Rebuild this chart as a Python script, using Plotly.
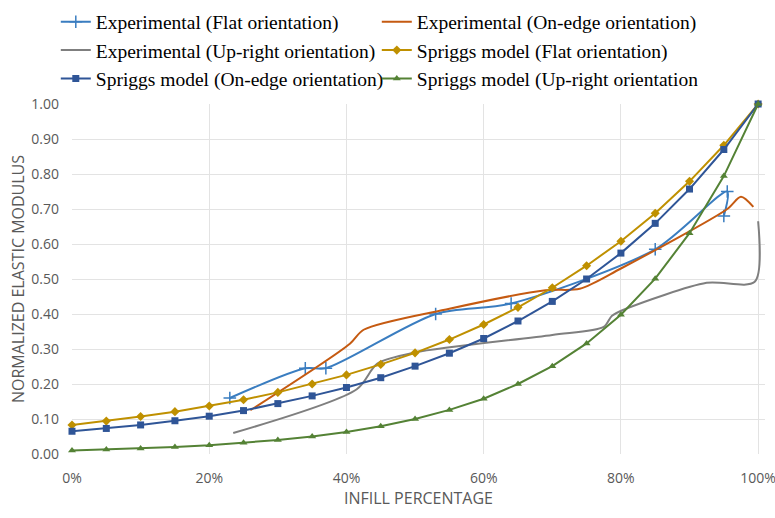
import plotly.graph_objects as go

# Infill percentage grid used for the Spriggs model curves
infill_model = [0, 5, 10, 15, 20, 25, 30, 35, 40, 45, 50, 55, 60, 65, 70, 75, 80, 85, 90, 95, 100]

spriggs_flat = [0.083, 0.094, 0.107, 0.121, 0.137, 0.155, 0.176, 0.200, 0.226, 0.256, 0.289,
                0.327, 0.370, 0.419, 0.475, 0.538, 0.608, 0.688, 0.779, 0.882, 1.000]
spriggs_onedge = [0.065, 0.073, 0.083, 0.095, 0.108, 0.124, 0.144, 0.166, 0.190, 0.218, 0.251,
                  0.288, 0.330, 0.380, 0.436, 0.500, 0.574, 0.659, 0.757, 0.870, 1.000]
spriggs_upright = [0.010, 0.013, 0.016, 0.020, 0.025, 0.032, 0.040, 0.050, 0.063, 0.079, 0.100,
                   0.126, 0.158, 0.200, 0.251, 0.316, 0.398, 0.501, 0.631, 0.794, 1.000]

# Experimental measurements (smoothed curves)
exp_flat_x = [23, 34, 37, 53, 64, 85, 95.5, 95]
exp_flat_y = [0.160, 0.245, 0.245, 0.400, 0.430, 0.585, 0.750, 0.680]

exp_onedge_x = [26, 40.5, 42.5, 55, 69, 74, 80, 95.5, 97.5, 99.3]
exp_onedge_y = [0.125, 0.315, 0.355, 0.415, 0.468, 0.472, 0.530, 0.700, 0.735, 0.706]

exp_upright_x = [23.5, 41.5, 44.5, 50, 70, 77.5, 78.7, 81, 92.5, 99.5, 100]
exp_upright_y = [0.060, 0.185, 0.258, 0.290, 0.340, 0.363, 0.395, 0.417, 0.489, 0.492, 0.665]

x_ticks = [0, 20, 40, 60, 80, 100]
x_tick_labels = ["0%", "20%", "40%", "60%", "80%", "100%"]
y_ticks = [0.0, 0.1, 0.2, 0.3, 0.4, 0.5, 0.6, 0.7, 0.8, 0.9, 1.0]

C_BLUE = "#3A7DC0"
C_ORANGE = "#C55A11"
C_GRAY = "#7F7F7F"
C_GOLD = "#BF9000"
C_NAVY = "#2F5597"
C_GREEN = "#548235"

fig = go.Figure()

fig.add_trace(go.Scatter(
    x=exp_flat_x, y=exp_flat_y, name="Experimental (Flat orientation)",
    mode="lines+markers", line=dict(color=C_BLUE, width=2, shape="spline", smoothing=0.8),
    marker=dict(symbol="cross-thin", size=9, line=dict(color=C_BLUE, width=1.5)),
))
fig.add_trace(go.Scatter(
    x=exp_onedge_x, y=exp_onedge_y, name="Experimental (On-edge orientation)",
    mode="lines", line=dict(color=C_ORANGE, width=2, shape="spline", smoothing=0.8),
))
fig.add_trace(go.Scatter(
    x=exp_upright_x, y=exp_upright_y, name="Experimental (Up-right orientation)",
    mode="lines", line=dict(color=C_GRAY, width=2, shape="spline", smoothing=0.8),
))
fig.add_trace(go.Scatter(
    x=infill_model, y=spriggs_flat, name="Spriggs model (Flat orientation)",
    mode="lines+markers", line=dict(color=C_GOLD, width=2),
    marker=dict(symbol="diamond", size=7, color=C_GOLD),
))
fig.add_trace(go.Scatter(
    x=infill_model, y=spriggs_onedge, name="Spriggs model (On-edge orientation)",
    mode="lines+markers", line=dict(color=C_NAVY, width=2),
    marker=dict(symbol="square", size=7, color=C_NAVY),
))
fig.add_trace(go.Scatter(
    x=infill_model, y=spriggs_upright, name="Spriggs model (Up-right orientation)",
    mode="lines+markers", line=dict(color=C_GREEN, width=2),
    marker=dict(symbol="triangle-up", size=7, color=C_GREEN),
))

fig.update_traces(cliponaxis=False)

fig.update_layout(
    width=775, height=518,
    margin=dict(l=72, r=10, t=104, b=64, autoexpand=False),
    plot_bgcolor="white", paper_bgcolor="white",
    font=dict(family="Open Sans, sans-serif", color="#595959"),
    legend=dict(
        orientation="h", xref="container", yref="container",
        x=0.072, y=0.995, xanchor="left", yanchor="top",
        entrywidth=276, entrywidthmode="pixels", itemwidth=30,
        font=dict(family="Liberation Serif, Times New Roman, serif", size=19.5, color="#000000"),
        tracegroupgap=0,
    ),
    xaxis=dict(
        range=[0, 101], tickvals=x_ticks, ticktext=x_tick_labels,
        showgrid=True, gridcolor="#E3E3E3", gridwidth=1, zeroline=False,
        showline=False, ticks="", ticklabelstandoff=14, ticklabeloverflow="allow",
        automargin=False,
        tickfont=dict(size=14, color="#595959"),
        title=dict(text="INFILL PERCENTAGE", font=dict(size=16, color="#595959"), standoff=4),
    ),
    yaxis=dict(
        range=[0, 1.0], tickvals=y_ticks, tickformat=".2f",
        showgrid=True, gridcolor="#E3E3E3", gridwidth=1, zeroline=False,
        showline=False, ticks="", ticklabelstandoff=12, automargin=False,
        tickfont=dict(size=14, color="#595959"),
        title=dict(text="NORMALIZED ELASTIC MODULUS", font=dict(size=16, color="#595959"), standoff=2),
    ),
)

fig.write_html("out.html")
